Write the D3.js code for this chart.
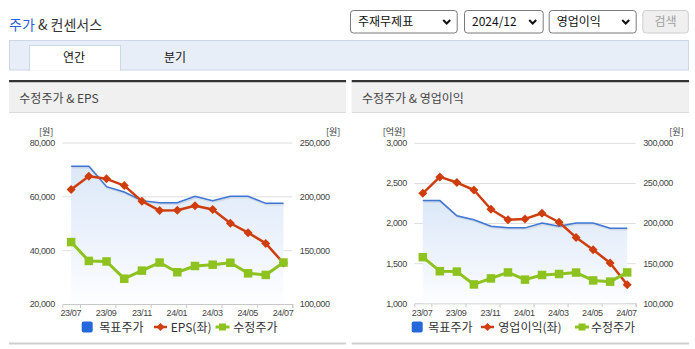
<!DOCTYPE html>
<html><head><meta charset="utf-8">
<script src="https://cdn.jsdelivr.net/npm/d3@7"></script>
<style>
html,body{margin:0;padding:0;background:#fff;}
svg{display:block;}
text{font-family:"Noto Sans CJK KR","Noto Sans",sans-serif;}
.ax text{font-family:"Liberation Sans",Arial,sans-serif;font-size:9px;fill:#444;letter-spacing:-0.4px;}
.ax .domain{stroke:#c8c8c8;}
.ax line{stroke:#c8c8c8;}
.grid line{stroke:#dedede;}
.grid .domain{display:none;}
</style></head><body>
<svg id="c" width="695" height="349"></svg>
<script>
// ---- data ----
const months = ["23/07","23/08","23/09","23/10","23/11","23/12","24/01","24/02","24/03","24/04","24/05","24/06","24/07"];
const targetPrice = [228000,228000,209000,204000,196000,194000,194000,200000,196000,200000,200000,193500,193500];
const adjPrice = [157500,140000,139500,123500,131000,138500,129500,135300,136500,138300,128500,127000,138500];
const eps = [62500,67500,66500,64000,58200,54700,54800,56500,55100,50000,46500,42500,35200];
const opProfit = [2370,2575,2505,2412,2172,2041,2052,2122,2010,1821,1667,1503,1230];
const epsTicks = [20000,40000,60000,80000];
const priceTicksA = [100000,150000,200000,250000];
const opTicks = [1000,1500,2000,2500,3000];
const priceTicksB = [100000,150000,200000,250000,300000];
const xLabelIdx = [0,2,4,6,8,10,12];

const C = {red:"#cf3d0e", green:"#8dc21f", blue:"#3d76d5", blueL:"#2468dc"};
const fmt = d3.format(",");
const svg = d3.select("#c");

// gradient
const defs = svg.append("defs");
const g1 = defs.append("linearGradient").attr("id","ag").attr("x1",0).attr("y1",0).attr("x2",0).attr("y2",1);
g1.append("stop").attr("offset","0%").attr("stop-color","#dce8f8");
g1.append("stop").attr("offset","55%").attr("stop-color","#edf3fc");
g1.append("stop").attr("offset","100%").attr("stop-color","#fdfeff");

// ---- header ----
const t = svg.append("text").attr("x",9).attr("y",30).attr("font-size",14);
t.append("tspan").attr("fill","#2a5fd6").text("주가");
t.append("tspan").attr("fill","#333").text(" & 컨센서스");

function select(x0,x1,label){
  svg.append("rect").attr("x",x0+0.5).attr("y",10.5).attr("width",x1-x0-1).attr("height",22.5)
    .attr("rx",3).attr("fill","#fff").attr("stroke","#7a7a7a");
  svg.append("text").attr("x",x0+8).attr("y",26).attr("font-size",12).attr("fill","#111").text(label);
  const cx = x1-11, cy = 22;
  svg.append("path").attr("d",`M${cx-3.5},${cy-2} L${cx},${cy+1.5} L${cx+3.5},${cy-2}`)
    .attr("fill","none").attr("stroke","#111").attr("stroke-width",2);
}
select(350,457.7,"주재무제표");
select(464,543.7,"2024/12");
select(548.7,636.7,"영업이익");
svg.append("rect").attr("x",642.8).attr("y",10.5).attr("width",45.5).attr("height",22.5).attr("rx",3)
  .attr("fill","#efefef").attr("stroke","#cfcfcf");
svg.append("text").attr("x",665.5).attr("y",26).attr("text-anchor","middle").attr("font-size",12).attr("fill","#a0a0a0").text("검색");

// tabs
svg.append("rect").attr("x",9.5).attr("y",40.5).attr("width",679).attr("height",29.5).attr("fill","#e8eef8").attr("stroke","#cdd7e7");
svg.append("rect").attr("x",29.5).attr("y",45.5).attr("width",91).attr("height",25).attr("fill","#fff").attr("stroke","#cdd7e7");
svg.append("line").attr("x1",30).attr("x2",120).attr("y1",70).attr("y2",70).attr("stroke","#fff").attr("stroke-width",1.5);
svg.append("text").attr("x",74).attr("y",61.5).attr("text-anchor","middle").attr("font-size",12).attr("fill","#111").text("연간");
svg.append("text").attr("x",175).attr("y",61.5).attr("text-anchor","middle").attr("font-size",12).attr("fill","#111").text("분기");

// panels
function panel(x0,x1,title){
  svg.append("rect").attr("x",x0).attr("y",80).attr("width",x1-x0).attr("height",2.5).attr("fill","#333");
  svg.append("rect").attr("x",x0).attr("y",82.5).attr("width",x1-x0).attr("height",29.5).attr("fill","#f0f0f0");
  svg.append("line").attr("x1",x0).attr("x2",x1).attr("y1",112.5).attr("y2",112.5).attr("stroke","#dcdcdc");
  svg.append("text").attr("x",x0+10.3).attr("y",102.5).attr("font-size",12).attr("fill","#444").text(title);
  svg.append("rect").attr("x",x0).attr("y",342.5).attr("width",x1-x0).attr("height",2).attr("fill","#cfcfcf");
}
panel(9,346,"수정주가 & EPS");
panel(351.7,689,"수정주가 & 영업이익");

// ---- charts ----
function chart(o){
  const x = d3.scaleLinear().domain([-0.5, months.length-0.5]).range([o.x0,o.x1]);
  const yL = d3.scaleLinear().domain(o.lDom).range([o.yb,o.yt]);
  const yR = d3.scaleLinear().domain(o.rDom).range([o.yb,o.yt]);
  const g = svg.append("g");
  // grid
  g.append("g").attr("class","grid").attr("transform",`translate(${o.x0},0)`)
    .call(d3.axisLeft(yL).tickValues(o.lTicks.slice(1)).tickSize(-(o.x1-o.x0)).tickFormat(""));
  // left axis labels
  const al = g.append("g").attr("class","ax").attr("transform",`translate(${o.x0},0)`)
    .call(d3.axisLeft(yL).tickValues(o.lTicks).tickSize(0).tickPadding(7.5).tickFormat(fmt));
  al.select(".domain").remove();
  const ar = g.append("g").attr("class","ax").attr("transform",`translate(${o.x1},0)`)
    .call(d3.axisRight(yR).tickValues(o.rTicks).tickSize(0).tickPadding(7.5).tickFormat(fmt));
  ar.select(".domain").remove();
  g.append("text").attr("class","u").attr("x",o.x0-9).attr("y",o.yt-7.5).attr("text-anchor","end")
    .attr("font-size",9).attr("fill","#333").text(o.lUnit);
  g.append("text").attr("x",o.x1+48).attr("y",o.yt-7.5).attr("text-anchor","end")
    .attr("font-size",9).attr("fill","#333").text("[원]");
  // x axis
  const ax = g.append("g").attr("class","ax").attr("transform",`translate(0,${o.yb})`)
    .call(d3.axisBottom(x).tickValues(xLabelIdx.map(i=>i+0.5)).tickSize(4).tickSizeOuter(4).tickPadding(2)
      .tickFormat(d=>months[Math.round(d-0.5)]));
  ax.selectAll("text").attr("text-anchor","end").attr("dx",0.5);
  // area + target line
  const area = d3.area().x((d,i)=>x(i)).y0(o.yb).y1(d=>yR(d));
  g.append("path").datum(targetPrice).attr("d",area).attr("fill","url(#ag)");
  const lR = d3.line().x((d,i)=>x(i)).y(d=>yR(d));
  const lL = d3.line().x((d,i)=>x(i)).y(d=>yL(d));
  g.append("path").datum(targetPrice).attr("d",lR).attr("fill","none").attr("stroke","rgba(0,0,0,0.08)").attr("stroke-width",2.5).attr("transform","translate(1,1)");
  g.append("path").datum(targetPrice).attr("d",lR).attr("fill","none").attr("stroke",C.blue).attr("stroke-width",1.5);
  // red series
  g.append("path").datum(o.redData).attr("d",lL).attr("fill","none").attr("stroke",C.red).attr("stroke-width",2.5).attr("stroke-linejoin","round");
  g.selectAll(".dm").data(o.redData).join("path")
    .attr("d","M0,-4.5L4.5,0L0,4.5L-4.5,0Z").attr("fill",C.red)
    .attr("transform",(d,i)=>`translate(${x(i)},${yL(d)})`);
  // green series
  g.append("path").datum(adjPrice).attr("d",lR).attr("fill","none").attr("stroke",C.green).attr("stroke-width",3).attr("stroke-linejoin","round");
  g.selectAll(".sq").data(adjPrice).join("rect")
    .attr("x",(d,i)=>x(i)-4.25).attr("y",d=>yR(d)-4.25).attr("width",8.5).attr("height",8.5).attr("fill",C.green);
  // legend
  const ly = 327;
  const L = o.leg;
  g.append("rect").attr("x",L[0]).attr("y",ly-5.5).attr("width",11).attr("height",11).attr("rx",2).attr("fill",C.blueL);
  g.append("text").attr("x",L[1]).attr("y",ly+4.5).attr("font-size",12).attr("fill","#333").text("목표주가");
  g.append("line").attr("x1",L[2]).attr("x2",L[2]+13).attr("y1",ly).attr("y2",ly).attr("stroke",C.red).attr("stroke-width",2.5);
  g.append("path").attr("d","M0,-4L4,0L0,4L-4,0Z").attr("fill",C.red).attr("transform",`translate(${L[2]+6.5},${ly})`);
  g.append("text").attr("x",L[3]).attr("y",ly+4.5).attr("font-size",12).attr("fill","#333").text(o.redName);
  g.append("line").attr("x1",L[4]).attr("x2",L[4]+14).attr("y1",ly).attr("y2",ly).attr("stroke",C.green).attr("stroke-width",3);
  g.append("rect").attr("x",L[4]+3.5).attr("y",ly-3.5).attr("width",7).attr("height",7).attr("fill",C.green);
  g.append("text").attr("x",L[5]).attr("y",ly+4.5).attr("font-size",12).attr("fill","#333").text("수정주가");
}

chart({x0:62.3,x1:292.3,yt:142.5,yb:304,lDom:[20000,80000],rDom:[100000,250000],
  lTicks:epsTicks,rTicks:priceTicksA,redData:eps,redName:"EPS(좌)",lUnit:"[원]",
  leg:[81.7,99.3,154,170.7,215.5,233.3]});
chart({x0:414.3,x1:635.7,yt:142.8,yb:303.3,lDom:[1000,3000],rDom:[100000,300000],
  lTicks:opTicks,rTicks:priceTicksB,redData:opProfit,redName:"영업이익(좌)",lUnit:"[억원]",
  leg:[411.7,428.3,481,498.3,575,591]});
</script>
</body></html>
